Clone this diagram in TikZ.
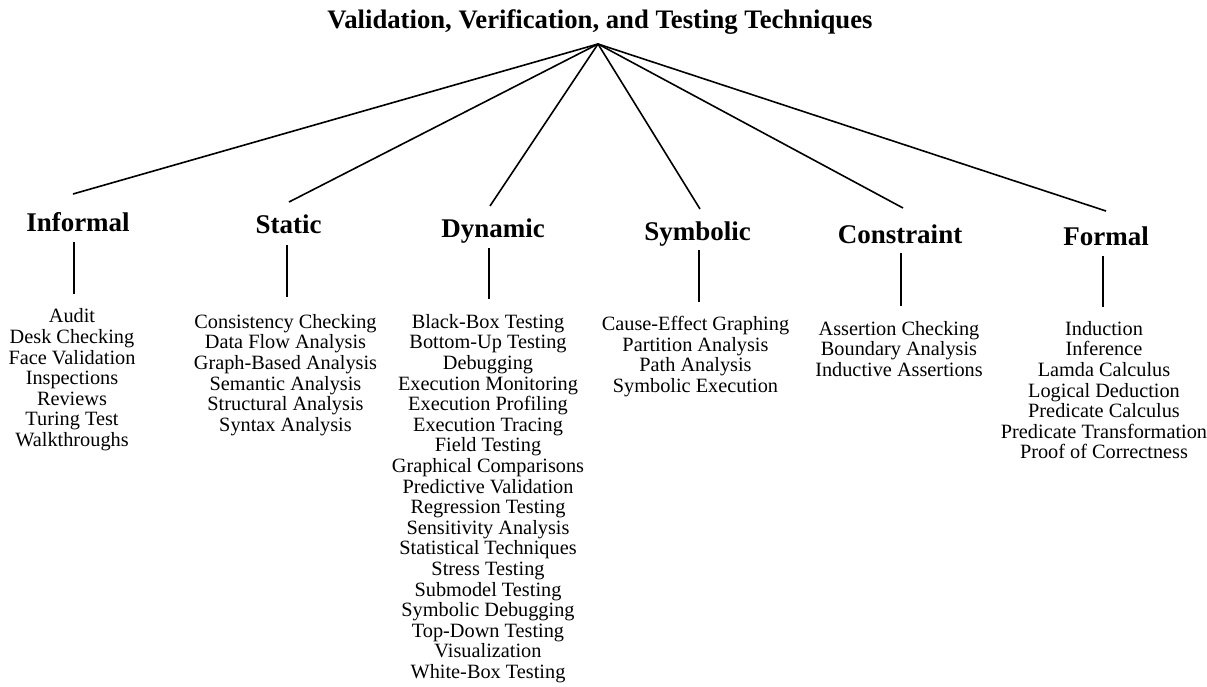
\documentclass[tikz,border=0pt]{standalone}
\usepackage{fontspec}
\setmainfont{Liberation Serif}
\begin{document}
\begin{tikzpicture}[x=1pt,y=-1pt,
  titlestyle/.style={inner sep=0pt,anchor=base,font=\fontsize{26.7}{28}\selectfont\bfseries},
  catstyle/.style={inner sep=0pt,anchor=base,font=\fontsize{27}{30}\selectfont\bfseries},
  liststyle/.style={inner sep=0pt,anchor=north,align=center,font=\fontsize{20.3}{20.6}\selectfont},
  conn/.style={line width=1.6pt}]
\useasboundingbox (0,0) rectangle (1207,686);
\fill[white] (0,0) rectangle (1207,686);

\node[titlestyle] (title) at (600,28) {Validation, Verification, and Testing Techniques};
\coordinate (apex) at (598,44);

\node[catstyle] (inf) at (78,231) {Informal};
\node[catstyle] (sta) at (288.5,233) {Static};
\node[catstyle] (dyn) at (493,237) {Dynamic};
\node[catstyle] (sym) at (697.5,240) {Symbolic};
\node[catstyle] (con) at (900,243) {Constraint};
\node[catstyle] (for) at (1106,245) {Formal};

\node[liststyle] (infl) at (72,308.7) {Audit\\Desk Checking\\Face Validation\\Inspections\\Reviews\\Turing Test\\Walkthroughs};
\node[liststyle] (stal) at (285.5,314) {Consistency Checking\\Data Flow Analysis\\Graph-Based Analysis\\Semantic Analysis\\Structural Analysis\\Syntax Analysis};
\node[liststyle] (dynl) at (488,314) {Black-Box Testing\\Bottom-Up Testing\\Debugging\\Execution Monitoring\\Execution Profiling\\Execution Tracing\\Field Testing\\Graphical Comparisons\\Predictive Validation\\Regression Testing\\Sensitivity Analysis\\Statistical Techniques\\Stress Testing\\Submodel Testing\\Symbolic Debugging\\Top-Down Testing\\Visualization\\White-Box Testing};
\node[liststyle] (syml) at (695.5,316) {Cause-Effect Graphing\\Partition Analysis\\Path Analysis\\Symbolic Execution};
\node[liststyle] (conl) at (899,321) {Assertion Checking\\Boundary Analysis\\Inductive Assertions};
\node[liststyle] (forl) at (1104,321) {Induction\\Inference\\Lamda Calculus\\Logical Deduction\\Predicate Calculus\\Predicate Transformation\\Proof of Correctness};

% top ends of branches
\coordinate (infT) at (73,194);
\coordinate (staT) at (289,202);
\coordinate (dynT) at (490,206);
\coordinate (symT) at (700,209);
\coordinate (conT) at (903,208);
\coordinate (forT) at (1106,211);

\draw[conn] (apex) -- (infT);
\draw[conn] (apex) -- (staT);
\draw[conn] (apex) -- (dynT);
\draw[conn] (apex) -- (symT);
\draw[conn] (apex) -- (conT);
\draw[conn] (apex) -- (forT);

% vertical stems
\coordinate (infA) at (74,242);  \coordinate (infB) at (74,294);
\coordinate (staA) at (287,245); \coordinate (staB) at (287,297);
\coordinate (dynA) at (489,248); \coordinate (dynB) at (489,299);
\coordinate (symA) at (699,250); \coordinate (symB) at (699,302);
\coordinate (conA) at (901,253); \coordinate (conB) at (901,306);
\coordinate (forA) at (1103,256); \coordinate (forB) at (1103,307);

\draw[conn] (infA) -- (infB);
\draw[conn] (staA) -- (staB);
\draw[conn] (dynA) -- (dynB);
\draw[conn] (symA) -- (symB);
\draw[conn] (conA) -- (conB);
\draw[conn] (forA) -- (forB);
\end{tikzpicture}
\end{document}
